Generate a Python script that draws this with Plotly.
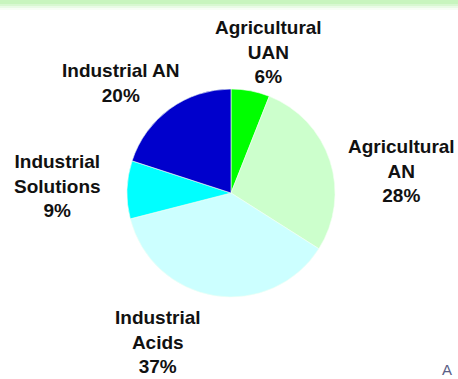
import plotly.graph_objects as go

W, H = 458, 379

# Product mix shares (%), clockwise from 12 o'clock
segments = ["Agricultural UAN", "Agricultural AN", "Industrial Acids",
            "Industrial Solutions", "Industrial AN"]
shares = [6, 28, 37, 9, 20]
label_lines = [["Agricultural", "UAN"], ["Agricultural", "AN"],
               ["Industrial", "Acids"], ["Industrial", "Solutions"],
               ["Industrial AN"]]
colors = ["#00FF00", "#CCFFCC", "#CCFFFF", "#00FFFF", "#0000CC"]

# label centres in pixels (x, y of the first line)
label_pos = [(268, 26), (401, 145), (158, 316), (57, 160), (121, 69)]

cx, cy, r = 231, 193, 104

fig = go.Figure(go.Pie(
    labels=segments,
    values=shares,
    sort=False,
    direction="clockwise",
    rotation=0,
    marker=dict(colors=colors, line=dict(color="#F4FFF4", width=0.6)),
    textinfo="none",
    hoverinfo="label+percent",
    showlegend=False,
    domain=dict(x=[(cx - r) / W, (cx + r) / W],
                y=[(H - cy - r) / H, (H - cy + r) / H]),
))

annotations = []
for lines, share, (px, py) in zip(label_lines, shares, label_pos):
    parts = lines + [f"{share}%"]
    text = "<br>".join(f"<b>{p}</b>" for p in parts)
    annotations.append(dict(
        x=px / W, y=1 - py / H, xref="paper", yref="paper",
        xanchor="center", yanchor="top", yshift=11,
        text=text, showarrow=False, align="center",
        font=dict(family="Liberation Sans, Arial, sans-serif", size=19,
                  color="#111111"),
    ))

annotations.append(dict(
    x=447 / W, y=0, xref="paper", yref="paper",
    xanchor="center", yanchor="bottom", yshift=-1, text="A", showarrow=False,
    font=dict(family="Liberation Sans, Arial, sans-serif", size=15,
              color="#5A5E86"),
))

# pale green band along the top edge, fading downward
shapes = []
band = [(0, 4, 1.0), (4, 6, 0.7), (6, 8, 0.4), (8, 10, 0.15)]
for y0, y1, op in band:
    shapes.append(dict(type="rect", xref="paper", yref="paper",
                       x0=0, x1=1, y0=1 - y1 / H, y1=1 - y0 / H,
                       fillcolor="#C8F5BE", opacity=op, line=dict(width=0),
                       layer="below"))

fig.update_layout(
    width=W, height=H,
    margin=dict(l=0, r=0, t=0, b=0),
    paper_bgcolor="white",
    plot_bgcolor="white",
    annotations=annotations,
    shapes=shapes,
)

fig.write_html("out.html")
